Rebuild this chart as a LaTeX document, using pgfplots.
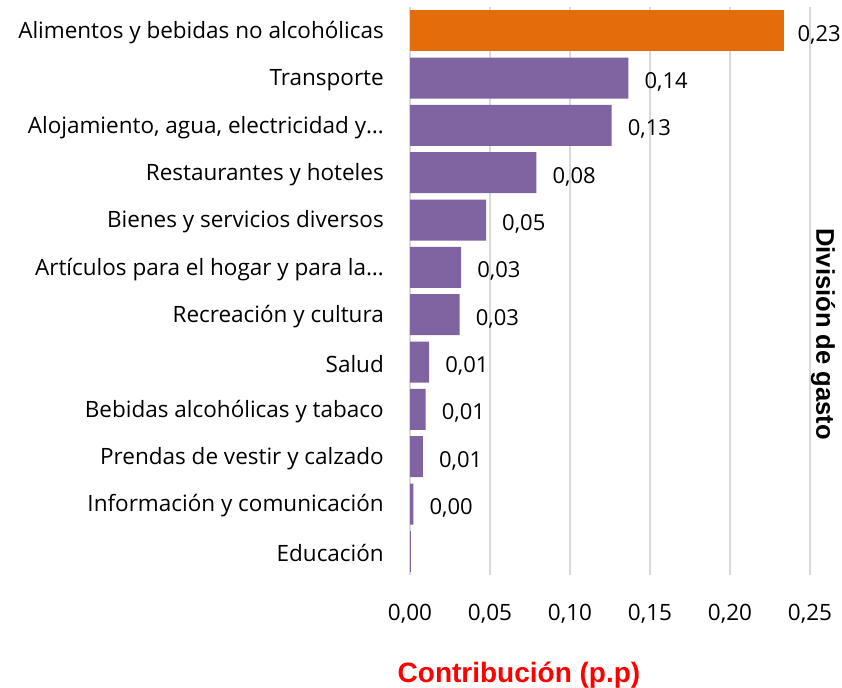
\documentclass[border=0pt]{standalone}
\usepackage{pgfplots}
\pgfplotsset{compat=1.18}
\usepackage{fontspec}
\setmainfont{Open Sans}
\newfontfamily\titlefont{Liberation Sans}
\definecolor{barpurple}{HTML}{8064A2}
\definecolor{barorange}{HTML}{E46C0A}
\definecolor{gridgray}{HTML}{D9D9D9}

\begin{document}
\begin{tikzpicture}
\begin{axis}[
    at={(410pt,-575pt)}, anchor=south west,
    scale only axis, width=400pt, height=568pt,
    xbar, bar shift=0pt, bar width=41pt,
    xmin=0, xmax=0.25,
    ymin=-0.5, ymax=11.5, y dir=reverse,
    xtick={0,0.05,0.10,0.15,0.20,0.25},
    xticklabel={\pgfmathprintnumber[fixed,fixed zerofill,precision=2,use comma,assume math mode=true]{\tick}},
    ytick={0,...,11},
    yticklabels={Alimentos y bebidas no alcohólicas, Transporte, {Alojamiento, agua, electricidad y…}, Restaurantes y hoteles, Bienes y servicios diversos, {Artículos para el hogar y para la…}, Recreación y cultura, Salud, Bebidas alcohólicas y tabaco, Prendas de vestir y calzado, Información y comunicación, Educación},
    axis line style={draw=none},
    major tick length=0pt,
    xmajorgrids, grid style={gridgray, line width=1.5pt},
    tick label style={font=\fontsize{22.5}{27}\selectfont},
    xticklabel style={anchor=north, inner sep=0pt, yshift=-29pt},
    yticklabel style={anchor=east, inner sep=0pt, xshift=-26pt, yshift=-2pt},
    point meta=x,
    nodes near coords={\pgfmathprintnumber[fixed,fixed zerofill,precision=2,use comma,assume math mode=true]{\pgfplotspointmeta}},
    every node near coord/.append style={font=\fontsize{22}{26}\selectfont, anchor=west, inner sep=0pt, xshift=16pt, yshift=-4pt, text=black},
    clip=false,
]
\addplot[fill=barorange, draw=none,
    every node near coord/.append style={xshift=-3pt}] coordinates {(0.234,0)};
\addplot[fill=barpurple, draw=none] coordinates {
    (0.1365,1) (0.126,2) (0.079,3) (0.0475,4) (0.032,5) (0.031,6)
    (0.012,7) (0.0098,8) (0.0081,9) (0.0021,10)
};
\addplot[fill=barpurple, draw=none, nodes near coords={}] coordinates {(0.0003,11)};

\node[font=\titlefont\bfseries\fontsize{28}{32}\selectfont, text=red, anchor=base]
    at (axis description cs:0.2725,-0.1884) {Contribución (p.p)};
\node[font=\titlefont\bfseries\fontsize{25.6}{30}\selectfont, rotate=-90, anchor=center]
    at (axis description cs:1.0325,0.424) {División de gasto};
\end{axis}
\pgfresetboundingbox
\path (0pt,0pt) rectangle (842pt,-687pt);
\end{tikzpicture}
\end{document}
